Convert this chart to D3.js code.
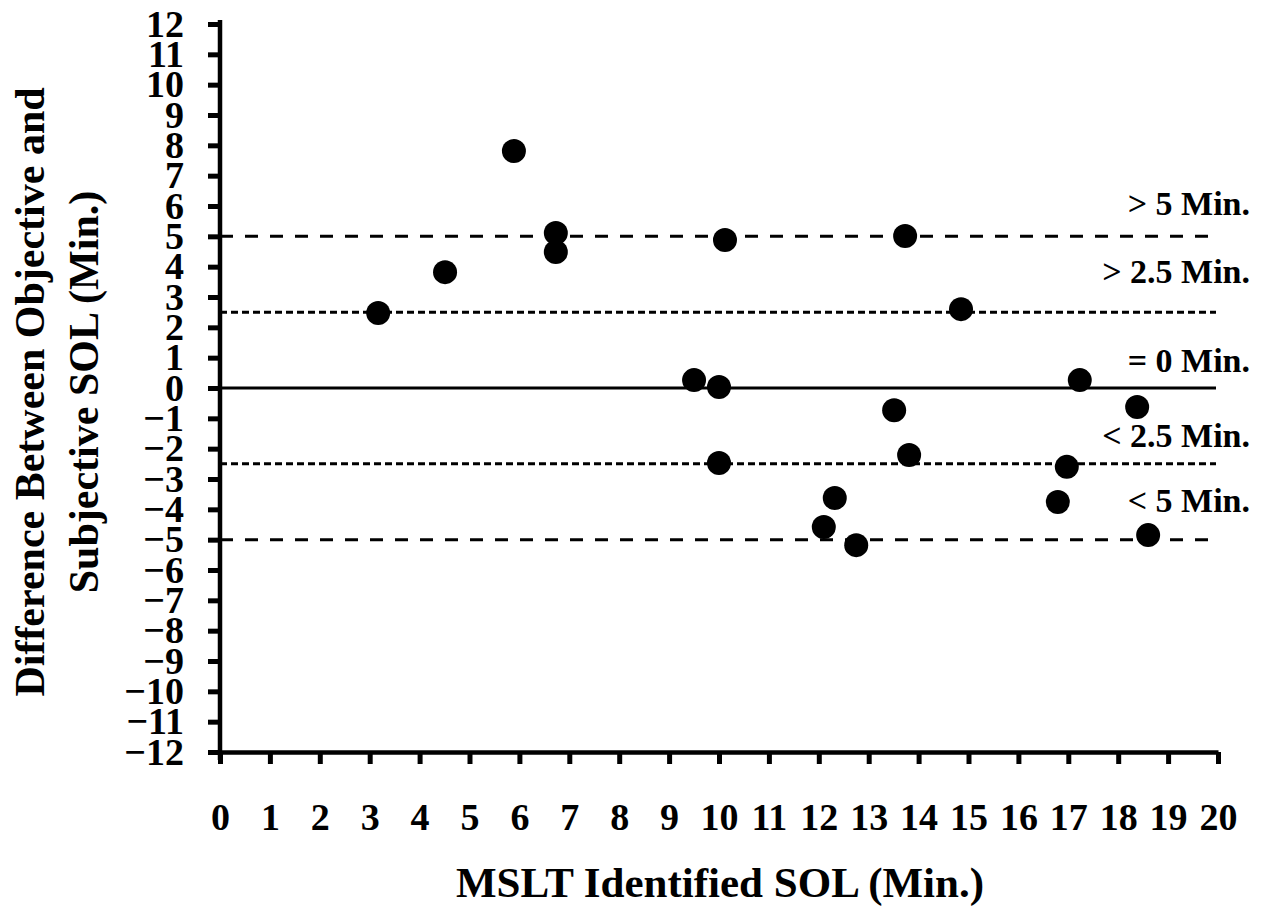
<!DOCTYPE html>
<html lang="en">
<head>
	<meta charset="utf-8">
	<title>MSLT vs subjective SOL</title>
	<style type="text/css">
		body { margin: 0; background: #fff; }
		svg text { font-family: "Liberation Serif", "Times New Roman", serif; font-weight: bold; fill: #000; }
	</style>
</head>
<body>
	<div id="content"><svg></svg></div>

	<script src="https://cdnjs.cloudflare.com/ajax/libs/d3/7.8.5/d3.min.js"></script>
	<script type="text/javascript">
		// values
		var solMslt = [3.17, 4.51, 5.89, 6.73, 6.73, 10.12, 9.5, 10.0, 13.73, 14.85, 13.51, 17.23, 18.38, 13.81, 10.0, 16.97, 12.32, 16.79, 12.1, 12.75, 18.6];
		var solDiff = [2.47, 3.82, 7.81, 5.11, 4.48, 4.88, 0.26, 0.03, 5.01, 2.6, -0.73, 0.26, -0.63, -2.21, -2.47, -2.6, -3.63, -3.76, -4.58, -5.18, -4.85];

		var xTicks = d3.range(0, 21);
		var yTicks = d3.range(-12, 13);

		var refLevels = [5, 2.5, 0, -2.5, -5];
		var refLabels = ["> 5 Min.", "> 2.5 Min.", "= 0 Min.", "< 2.5 Min.", "< 5 Min."];
		var refLabelAt = [5.7, 3.46, 0.53, -1.95, -4.09];

		var w = 1264, h = 912;
		var svg = d3.select("#content svg").attr("width", w).attr("height", h);

		var x = d3.scaleLinear().domain([0, 20]).range([220, 1218]);
		var y = d3.scaleLinear().domain([-12, 12]).range([752, 24]);

		// reference lines
		function dashFor(v) {
			if (v === 0) return null;
			return Math.abs(v) === 5 ? "13,12" : "7,4";
		}
		svg.selectAll("line.ref")
			.data(refLevels)
			.enter().append("line")
			.attr("class", "ref")
			.attr("x1", x(0)).attr("x2", x(20) - 2)
			.attr("y1", d => y(d)).attr("y2", d => y(d))
			.attr("stroke", "#000")
			.attr("stroke-width", 3)
			.attr("stroke-dasharray", dashFor);

		svg.selectAll("text.ref")
			.data(refLabels)
			.enter().append("text")
			.attr("class", "ref")
			.attr("x", x(20) + 32)
			.attr("y", (d, i) => y(refLabelAt[i]))
			.attr("text-anchor", "end")
			.style("font-size", "34px")
			.text(d => d);

		// axes
		var yAxis = d3.axisLeft(y).tickValues(yTicks).tickSize(12).tickSizeOuter(0).tickPadding(24);
		var gy = svg.append("g").attr("transform", "translate(" + x(0) + ",0)").call(yAxis);

		var xAxis = d3.axisBottom(x).tickValues(xTicks).tickSize(12).tickSizeOuter(0).tickPadding(39);
		var gx = svg.append("g").attr("transform", "translate(0," + y(-12) + ")").call(xAxis);

		[gy, gx].forEach(function (g) {
			g.select(".domain").attr("stroke", "#000").attr("stroke-width", 4.5);
			g.selectAll(".tick line").attr("stroke", "#000").attr("stroke-width", 5);
			g.selectAll(".tick text")
				.style("font-family", "'Liberation Serif', 'Times New Roman', serif")
				.style("font-weight", "bold")
				.style("font-size", "38px")
				.attr("fill", "#000");
		});
		gy.select(".domain").attr("d", "M0," + (y(12) - 4) + "V" + (y(-12) + 8));

		// points
		svg.selectAll("circle.pt")
			.data(solMslt)
			.enter().append("circle")
			.attr("class", "pt")
			.attr("cx", d => x(d))
			.attr("cy", (d, i) => y(solDiff[i]))
			.attr("r", 12)
			.attr("fill", "#000");

		// axis titles
		svg.append("text")
			.attr("x", 720).attr("y", 897)
			.attr("text-anchor", "middle")
			.style("font-size", "43px")
			.text("MSLT Identified SOL (Min.)");

		var yt = svg.append("text")
			.attr("transform", "translate(44,392) rotate(-90)")
			.attr("text-anchor", "middle")
			.style("font-size", "42px");
		yt.append("tspan").attr("x", 0).attr("dy", 0).text("Difference Between Objective and");
		yt.append("tspan").attr("x", 0).attr("dy", 54).text("Subjective SOL (Min.)");
	</script>
</body>
</html>
